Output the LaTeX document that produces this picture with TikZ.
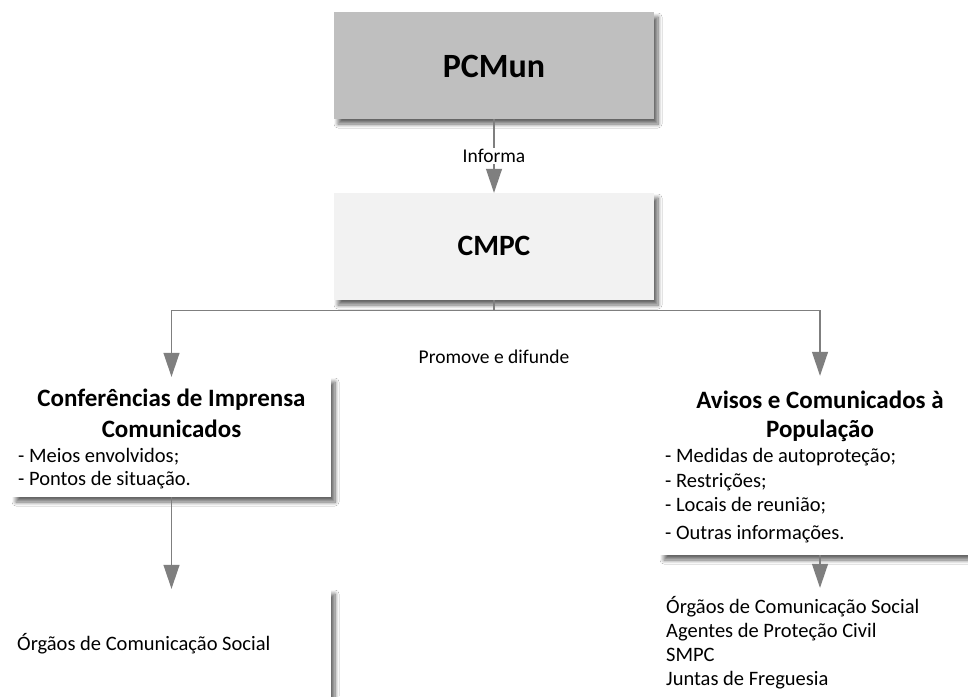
\documentclass[tikz,border=0pt]{standalone}
\usepackage{fontspec}
\setmainfont{Carlito}
\usetikzlibrary{arrows.meta,shadows.blur}
\definecolor{linegray}{HTML}{7F7F7F}
\definecolor{topfill}{HTML}{BFBFBF}
\definecolor{midfill}{HTML}{F2F2F2}
\begin{document}
\begin{tikzpicture}[x=1pt,y=-1pt,
  box/.style={rectangle, draw=none, inner sep=0pt,
    blur shadow={shadow xshift=4pt, shadow yshift=-5pt,
      shadow blur radius=4pt, shadow blur steps=8, shadow opacity=60}},
  conn/.style={draw=linegray, line width=1.2pt,
    -{Triangle[width=16pt,length=24pt]}, color=linegray},
  bigtitle/.style={font=\fontsize{34}{40}\selectfont\bfseries, anchor=base, inner sep=0pt},
  midtitle/.style={font=\fontsize{29.5}{34}\selectfont\bfseries, anchor=base, inner sep=0pt},
  subtitle/.style={font=\fontsize{25}{30}\selectfont\bfseries, anchor=base, inner sep=0pt},
  bodytext/.style={font=\fontsize{20.5}{25}\selectfont, anchor=base west, inner sep=0pt},
  conlabel/.style={font=\fontsize{19.5}{23}\selectfont, text=black}
]
\clip (0,0) rectangle (968,696);
\fill[white] (0,0) rectangle (968,696);

% boxes
\node[box, fill=topfill, minimum width=320pt, minimum height=107pt] (pcmun) at (494,65.5) {};
\node[box, fill=midfill, minimum width=320pt, minimum height=107pt] (cmpc) at (494,246.5) {};
\node[box, fill=white, minimum width=319pt, minimum height=120pt] (conf) at (171.5,437) {};
\node[box, fill=white, minimum width=320pt, minimum height=179pt] (avisos) at (820,465.5) {};
\node[box, fill=white, minimum width=319pt, minimum height=112pt] (ocsl) at (171.5,645) {};
\node[box, fill=white, minimum width=320pt, minimum height=112pt] (dest) at (820,644) {};

% box texts
\node[bigtitle] (tpcmun) at (494,77) {PCMun};
\node[midtitle] (tcmpc) at (494,255) {CMPC};

\node[subtitle] (tconf1) at (171.5,406) {Conferências de Imprensa};
\node[subtitle] (tconf2) at (171.5,437) {Comunicados};
\node[bodytext] (tconf3) at (18,462) {- Meios envolvidos;};
\node[bodytext] (tconf4) at (18,485) {- Pontos de situação.};

\node[subtitle] (tav1) at (820,408) {Avisos e Comunicados à};
\node[subtitle] (tav2) at (820,437) {População};
\node[bodytext] (tav3) at (665,462) {- Medidas de autoproteção;};
\node[bodytext] (tav4) at (665,487) {- Restrições;};
\node[bodytext] (tav5) at (665,511) {- Locais de reunião;};
\node[bodytext] (tav6) at (665,539) {- Outras informações.};

\node[bodytext] (tocsl) at (17,650) {Órgãos de Comunicação Social};

\node[bodytext] (tdest1) at (666,613) {Órgãos de Comunicação Social};
\node[bodytext] (tdest2) at (666,637) {Agentes de Proteção Civil};
\node[bodytext] (tdest3) at (666,661) {SMPC};
\node[bodytext] (tdest4) at (666,685) {Juntas de Freguesia};

% connectors
\draw[conn] (pcmun.south) -- node[conlabel, fill=white, inner sep=1pt, pos=0.5] (linf) {Informa} (cmpc.north);
\coordinate (split) at (494,310.5);
\draw[conn] (cmpc.south) -- (split) -| (conf.north);
\draw[conn] (split) -| (avisos.north);
\node[conlabel, anchor=base, inner sep=0pt] (lprom) at (494,363) {Promove e difunde};
\draw[conn] (conf.south) -- (ocsl.north);
\draw[conn] (avisos.south) -- (dest.north);
\end{tikzpicture}
\end{document}
